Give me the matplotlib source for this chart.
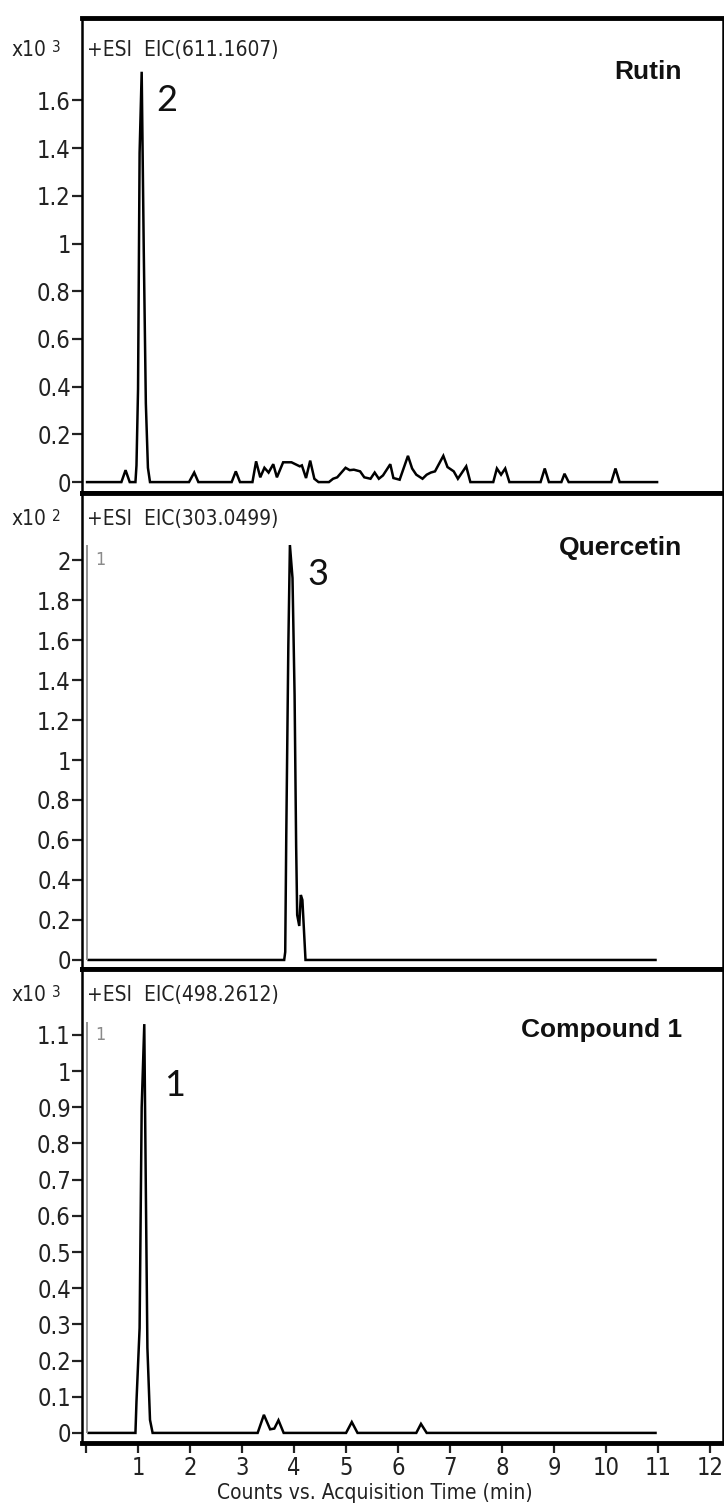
import matplotlib
matplotlib.use("Agg")
import matplotlib.pyplot as plt

plt.rcParams['font.family'] = ['DejaVu Sans']
plt.rcParams['font.stretch'] = 'condensed'

# ---- data (times in min, counts in units of the panel multiplier) ----
rutin_t = [0.02, 0.68, 0.76, 0.84, 0.95, 0.97, 1.00, 1.03, 1.07, 1.11, 1.15, 1.19, 1.23,
           1.98, 2.08, 2.16, 2.80, 2.88, 2.96, 3.20, 3.27, 3.35, 3.43, 3.51, 3.60, 3.67,
           3.79, 3.95, 4.11, 4.15, 4.23, 4.31, 4.39, 4.47, 4.67, 4.75, 4.83, 4.99, 5.07,
           5.15, 5.27, 5.35, 5.47, 5.55, 5.63, 5.71, 5.85, 5.91, 6.03, 6.19, 6.27, 6.35,
           6.47, 6.55, 6.63, 6.71, 6.87, 6.95, 7.07, 7.15, 7.31, 7.39, 7.83, 7.90, 7.98,
           8.06, 8.14, 8.74, 8.82, 8.90, 9.14, 9.20, 9.28, 10.10, 10.18, 10.26, 10.98]
rutin_y = [0, 0, 0.05, 0, 0, 0.07, 0.39, 1.38, 1.72, 0.97, 0.33, 0.06, 0,
           0, 0.04, 0, 0, 0.045, 0, 0, 0.087, 0.02, 0.06, 0.04, 0.075, 0.02,
           0.083, 0.083, 0.066, 0.07, 0.017, 0.09, 0.014, 0, 0, 0.014, 0.02, 0.06, 0.05,
           0.052, 0.045, 0.02, 0.014, 0.04, 0.014, 0.028, 0.075, 0.017, 0.01, 0.11, 0.057, 0.031,
           0.014, 0.031, 0.04, 0.045, 0.11, 0.063, 0.045, 0.014, 0.066, 0, 0, 0.057, 0.031,
           0.057, 0, 0, 0.057, 0, 0, 0.035, 0, 0, 0.057, 0, 0]

querc_t = [0.05, 3.81, 3.83, 3.85, 3.89, 3.92, 3.97, 4.01, 4.04, 4.06, 4.10, 4.13, 4.16,
           4.19, 4.22, 10.95]
querc_y = [0, 0, 0.04, 0.62, 1.575, 2.075, 1.91, 1.325, 0.57, 0.225, 0.17, 0.325, 0.30,
           0.15, 0, 0]

comp1_t = [0.05, 0.95, 0.97, 1.03, 1.07, 1.12, 1.15, 1.18, 1.23, 1.28, 3.30, 3.42, 3.54,
           3.62, 3.70, 3.80, 5.00, 5.11, 5.22, 6.35, 6.44, 6.55, 10.95]
comp1_y = [0, 0, 0.087, 0.29, 0.90, 1.13, 0.67, 0.235, 0.036, 0, 0, 0.05, 0.01,
           0.012, 0.035, 0, 0, 0.03, 0, 0, 0.025, 0, 0]

panel_names = ["Rutin", "Quercetin", "Compound 1"]
eic_labels = ["+ESI  EIC(611.1607)", "+ESI  EIC(303.0499)", "+ESI  EIC(498.2612)"]
exponents = ["3", "2", "3"]
peak_ids = ["2", "3", "1"]

rutin_ticks = [0, 0.2, 0.4, 0.6, 0.8, 1, 1.2, 1.4, 1.6]
querc_ticks = [0, 0.2, 0.4, 0.6, 0.8, 1, 1.2, 1.4, 1.6, 1.8, 2]
comp1_ticks = [0, 0.1, 0.2, 0.3, 0.4, 0.5, 0.6, 0.7, 0.8, 0.9, 1, 1.1]
x_ticks = [0, 1, 2, 3, 4, 5, 6, 7, 8, 9, 10, 11, 12]
x_ticklabels = ["", "1", "2", "3", "4", "5", "6", "7", "8", "9", "10", "11", "12"]

# cursor marker (grey line labelled "1") in the two lower panels
marker_t = 0.02
marker_top = [None, 2.075, 1.136]

ylims = [(-0.046, 1.945), (-0.045, 2.335), (-0.028, 1.282)]
# axes rectangles in figure fraction
rects = [(0.1133, 0.6726, 0.8855, 0.3154),
         (0.1133, 0.3566, 0.8855, 0.3160),
         (0.1133, 0.0418, 0.8855, 0.3147)]
# peak-number label positions (data coords)
peak_pos = [(1.56, 1.60), (4.46, 1.93), (1.71, 0.96)]

fig = plt.figure(figsize=(7.24, 15.06), dpi=100)

traces = [(rutin_t, rutin_y), (querc_t, querc_y), (comp1_t, comp1_y)]
yticks = [rutin_ticks, querc_ticks, comp1_ticks]

for i in range(3):
    ax = fig.add_axes(rects[i])
    t, y = traces[i]
    ax.plot(t, y, color='black', lw=1.8, solid_joinstyle='miter')
    if marker_top[i] is not None:
        ax.vlines(marker_t, 0, marker_top[i], color='#8a8a8a', lw=1.3)
        ax.text(0.021, 0.86, "1", transform=ax.transAxes,
                color='#8a8a8a', fontsize=13, ha='left', va='center')
    ax.set_xlim(-0.077, 12.25)
    ax.set_ylim(*ylims[i])
    ax.set_yticks(yticks[i])
    ax.set_yticklabels(["%g" % v for v in yticks[i]])
    ax.tick_params(axis='y', direction='out', length=7, width=1.6, pad=1,
                   labelsize=17, colors='#222222')
    for side in ['top', 'bottom']:
        ax.spines[side].set_linewidth(3.5)
    for side in ['left', 'right']:
        ax.spines[side].set_linewidth(1.8)
    if i < 2:
        ax.set_xticks([])
    else:
        ax.set_xticks(x_ticks)
        ax.set_xticklabels(x_ticklabels)
        ax.tick_params(axis='x', direction='out', length=7, width=1.6, pad=2,
                       labelsize=17, colors='#222222')

    hy = [0.933, 0.945, 0.945][i]
    ax.text(0.008, hy, eic_labels[i], transform=ax.transAxes, fontsize=15,
            ha='left', va='center', color='#222222')
    ax.text(-0.055, hy, "x10", transform=ax.transAxes, fontsize=15,
            ha='right', va='center', color='#222222')
    ax.text(-0.047, hy + 0.006, exponents[i], transform=ax.transAxes, fontsize=11,
            ha='left', va='center', color='#222222')
    ax.text(0.936, [0.886, 0.884, 0.871][i], panel_names[i], transform=ax.transAxes,
            fontsize=19, fontweight='bold', family=['Liberation Sans', 'DejaVu Sans'],
            fontstretch='normal', ha='right', va='center', color='#111111')
    ax.text(peak_pos[i][0], peak_pos[i][1], peak_ids[i], fontsize=26,
            family=['Lato', 'DejaVu Sans'], fontstretch='normal',
            ha='center', va='center', color='#111111')

fig.text(375 / 724, 1 - 1493 / 1506, "Counts vs. Acquisition Time (min)",
         fontsize=15, ha='center', va='center', color='#222222')

fig.savefig("out.png", dpi=100)
